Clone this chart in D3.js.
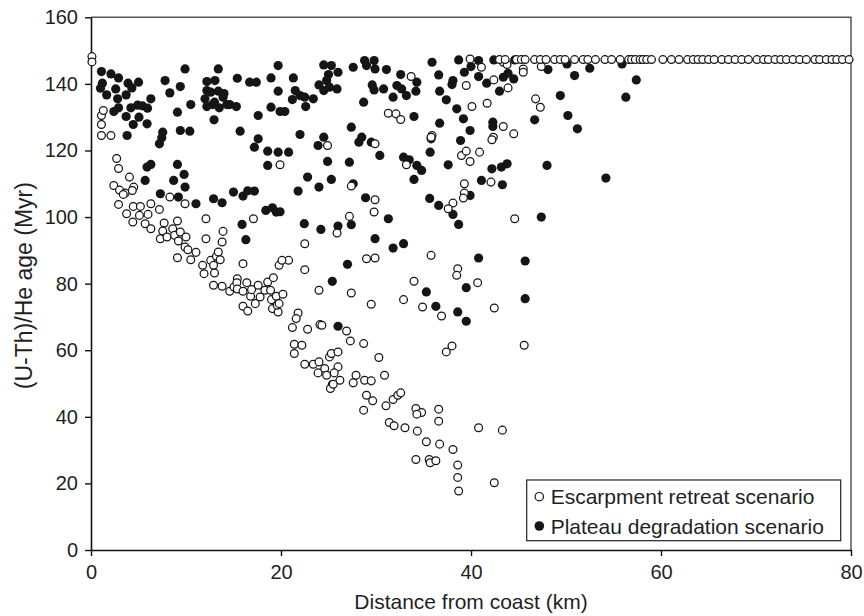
<!DOCTYPE html>
<html><head><meta charset="utf-8">
<script src="https://cdn.jsdelivr.net/npm/d3@7"></script>
<style>body{margin:0;background:#fff}</style>
</head><body><svg id="c" width="864" height="616"></svg>
<script>
// Escarpment retreat scenario (open circles): [distance km, age Myr]
const escarpment = [
[0.1,148.2],[0.1,146.6],
[1.1,130.5],[1.3,132.0],[1.1,127.8],[1.1,124.5],[2.1,124.5],
[2.7,117.6],[2.9,114.6],[2.4,109.5],[3.0,108.1],[3.6,107.2],[4.05,112.0],[4.5,109.0],
[2.9,103.8],[3.4,106.8],[4.35,108.0],[3.75,101.0],[4.45,103.2],[4.4,98.5],[5.2,103.2],[5.1,100.5],[5.7,98.0],[6.0,100.8],[6.3,104.0],[6.3,96.5],[7.2,102.3],[8.3,106.0],[7.7,98.2],[7.55,95.8],[7.3,93.5],[8.0,94.0],[8.6,96.5],[9.1,98.8],[8.8,94.5],[9.4,95.5],[9.2,92.8],[10.0,94.0],[9.9,91.0],[10.2,90.2],[9.1,87.8],[10.5,87.2],[11.05,89.4],[9.9,104.0],[12.1,99.5],[12.1,93.5],[13.9,95.7],[13.8,92.5],[11.75,85.5],[11.9,83.0],[12.6,87.0],[12.9,85.5],[13.2,88.2],[13.4,89.5],[13.6,87.2],[13.0,83.2],[12.9,79.5],[13.8,79.2],[14.6,77.7],[15.05,79.0],[15.4,81.5],[15.35,80.3],[15.4,78.4],[16.0,86.0],[16.4,80.3],[16.0,77.7],[16.0,73.2],[16.5,71.8],[16.8,76.2],[16.9,78.2],[17.3,74.0],[17.6,79.5],[17.8,76.0],[18.3,78.0],[18.6,80.5],[18.9,78.0],[19.2,81.8],[19.0,75.2],[19.5,76.2],[19.1,72.5],[19.7,71.5],[19.6,73.5],[19.8,85.5],[17.1,99.5],
[29.9,105.2],[29.8,101.5],[27.2,100.2],[25.9,95.2],[22.5,92.0],[38.1,104.2],[37.6,102.5],[39.3,110.0],[39.3,107.2],[39.2,105.7],
[35.8,88.5],[29.0,87.5],[29.9,87.7],[22.5,84.2],[20.8,87.0],[20.1,87.0],[38.6,84.5],[38.5,82.5],[34.0,80.7],[24.0,78.0],[27.4,77.2],[32.9,75.2],[34.9,73.0],[36.9,70.3],[29.5,73.8],[20.2,76.8],[19.8,74.0],[21.8,71.2],[21.6,69.5],[21.2,66.8],[22.8,66.3],[24.1,67.7],[24.3,67.5],[26.9,65.8],[27.3,62.8],[28.7,62.0],[30.3,57.8],[21.4,61.8],[22.2,61.5],[21.4,59.0],[22.5,55.8],[23.4,55.8],[24.0,56.5],[25.1,58.0],[25.3,59.0],[26.0,59.5],[26.0,55.0],[24.6,54.5],[23.9,53.2],[24.8,52.5],[25.6,53.2],[26.2,51.0],[25.4,49.7],[27.6,50.2],[27.9,52.5],[28.8,51.0],[29.5,50.8],[30.9,52.5],[37.4,59.5],[38.0,61.3],
[25.2,48.5],[25.5,49.8],[29.0,46.5],[29.65,44.8],[28.7,42.0],[31.05,43.3],[31.8,45.2],[32.3,46.5],[32.6,47.2],[31.4,38.3],[31.9,37.3],[33.05,36.7],[34.35,35.7],[34.2,42.5],[34.8,41.3],[34.3,40.8],[36.6,42.3],[36.6,38.7],[35.3,32.5],[36.7,31.8],[38.1,30.2],[34.2,27.2],[35.6,27.2],[35.7,26.2],[36.3,26.8],[38.6,25.5],[38.6,21.8],[38.7,17.7],
[40.8,36.7],[43.3,36.0],[42.45,20.2],[44.6,99.5],[40.7,80.3],[42.45,72.7],[45.6,61.5],
[33.7,142.2],[31.3,131.2],[32.1,131.0],[32.6,129.3],[35.9,124.5],[35.8,124.0],[29.9,122.0],[24.9,121.5],[19.9,115.7],[33.2,115.7],[39.0,118.5],[39.5,119.8],[39.9,116.7],[40.9,119.5],[27.4,109.3],[42.1,110.5],[39.9,147.5],[41.1,145.0],[39.5,139.5],[40.1,133.2],[41.7,134.2],[43.4,146.5],[43.8,145.8],[45.5,144.5],[45.5,143.5],[47.4,145.2],[42.4,141.2],[43.9,138.8],[46.8,135.5],[47.3,133.0],[43.4,127.2],[44.5,125.0],[42.35,124.0],[42.2,123.2],
[43.0,147.3],[43.6,147.3],[44.8,147.3],[45.3,147.3],[45.7,147.3],[46.7,147.3],[47.3,147.3],[47.9,147.3],[48.8,147.3],[49.4,147.3],[49.9,147.3],[50.9,147.3],[51.8,147.3],[52.3,147.3],[53.1,147.3],[54.1,147.3],[54.8,147.3],[55.7,147.3],[56.6,147.3],[56.9,147.3],[57.3,147.3],[57.8,147.3],[58.1,147.3],[58.5,147.3],[59.0,147.3],
[60.2,147.3],[61.1,147.3],[61.9,147.3],[62.8,147.3],[63.4,147.3],[63.9,147.3],[64.4,147.3],[65.0,147.3],[65.6,147.3],[66.4,147.3],[67.1,147.3],[67.8,147.3],[68.5,147.3],[69.2,147.3],[70.1,147.3],[70.8,147.3],[71.3,147.3],[72.0,147.3],[72.6,147.3],[73.2,147.3],[73.9,147.3],[74.6,147.3],[75.3,147.3],[76.2,147.3],[76.7,147.3],[77.4,147.3],[78.0,147.3],[78.5,147.3],[79.1,147.3],[79.8,147.3]
];
// Plateau degradation scenario (filled circles)
const plateau = [
[1.1,143.7],[2.1,143.0],[2.9,141.8],[1.2,140.2],[1.0,138.7],[1.65,136.7],[2.6,138.5],[2.8,135.5],[2.9,132.8],[2.4,131.7],[3.7,136.7],[3.9,140.2],[4.3,138.8],[5.0,140.5],[3.7,130.2],[4.2,132.8],[4.9,133.6],[5.4,133.4],[5.95,132.7],[4.45,127.8],[5.05,130.0],[5.9,128.0],[6.3,135.5],[3.8,124.5],[7.8,141.0],[8.3,137.3],[9.4,139.2],[9.9,144.5],[9.1,131.5],[10.5,133.8],[9.4,126.0],[10.4,125.8],[7.55,125.5],[7.45,123.8],[7.2,122.0],[9.1,115.8],[9.8,112.8],[8.7,111.0],[9.9,109.0],[5.7,111.0],[5.9,115.0],[6.3,115.8],
[12.0,135.5],[12.2,138.0],[13.05,141.0],[13.4,144.5],[12.2,133.2],[12.8,133.8],[13.0,134.5],[13.5,132.8],[13.9,136.0],[14.3,133.8],[12.95,129.2],[15.3,133.2],[15.7,125.8],[15.4,141.7],[16.7,140.5],[17.4,140.5],[17.6,130.5],[17.2,121.0],[17.6,123.5],[18.6,119.8],[18.6,115.5],[18.95,141.8],[18.95,133.0],[19.7,145.5],[12.2,140.7],[12.6,137.5],[13.4,137.8],[14.0,137.1],[14.6,133.8],
[7.3,107.0],[9.2,106.0],[11.05,104.0],[12.9,105.5],[13.8,104.3],[15.9,97.8],[16.3,93.2],[18.4,102.0],[19.1,102.8],[19.5,101.5],[19.9,101.6],[15.0,107.5],[16.0,106.3],[16.5,107.9],[17.2,107.8],
[21.3,141.8],[19.7,137.8],[21.5,138.0],[21.2,135.3],[22.0,136.5],[22.5,136.0],[23.4,135.5],[22.6,133.2],[19.9,131.7],[20.4,131.7],[24.5,145.7],[25.3,145.5],[26.0,143.5],[25.0,142.8],[24.8,141.0],[24.0,139.7],[25.1,139.0],[24.5,138.0],[25.9,138.5],[27.6,145.0],[28.8,147.0],[29.8,147.0],[29.0,145.5],[29.9,144.5],[31.1,144.3],[29.6,139.7],[29.8,138.2],[30.8,138.5],[32.6,142.8],[32.2,139.5],[32.7,138.5],[33.2,136.5],[34.3,140.5],[34.2,137.8],[31.8,136.0],[28.7,134.5],[34.0,130.2],[35.9,146.5],[36.6,142.7],[38.7,147.2],[39.3,143.5],[38.1,141.0],[38.0,139.8],[40.8,142.2],[41.65,140.2],[40.8,147.0],[36.7,137.8],[37.4,135.2],[38.5,132.5],[39.2,129.5],[39.9,126.0],[38.9,123.0],[36.7,128.2],[35.8,123.5],[35.7,119.5],[37.6,115.7],[41.1,111.0],[39.9,106.5],[34.0,111.3],[32.9,118.0],[33.5,117.2],[34.3,115.5],[34.8,114.0],[30.4,118.5],[27.4,127.0],[28.5,124.0],[28.2,122.5],[29.5,122.5],[24.5,124.0],[23.9,121.5],[22.0,124.8],[24.9,116.7],[27.2,116.5],[24.0,109.0],[22.8,112.0],[25.3,111.3],[21.8,107.8],[19.7,119.5],[20.8,119.5],[28.9,105.8],[35.65,105.6],[27.6,110.0],[40.0,145.2],
[36.6,103.5],[38.1,100.8],[38.7,97.8],[22.45,98.0],[24.2,96.3],[26.0,97.3],[27.4,97.7],[31.3,99.5],[29.9,93.5],[31.8,90.7],[32.9,92.0],[27.0,85.8],[25.4,80.7],[35.3,77.5],[36.3,73.2],[38.6,71.5],[39.5,78.8],[39.5,68.7],[26.0,67.2],
[47.4,100.0],[40.8,87.7],[45.7,86.8],[45.7,75.5],
[42.4,147.2],[44.6,147.2],[48.1,144.3],[50.1,146.0],[50.9,142.5],[52.5,144.7],[55.9,146.0],[57.4,141.2],[49.4,136.5],[56.3,136.0],[50.2,130.5],[46.7,129.2],[51.2,126.5],[48.0,115.5],[54.2,111.7],[43.0,137.8],[43.4,142.0],[43.9,143.2],[44.5,141.5],[42.3,128.5],[42.3,127.2],[42.2,114.5],[43.2,115.0],[43.8,116.0],[43.3,109.7]
];
const xTicks = [0, 20, 40, 60, 80];
const yTicks = [0, 20, 40, 60, 80, 100, 120, 140, 160];
const xTitle = "Distance from coast (km)";
const yTitle = "(U-Th)/He age (Myr)";
const legendLabels = ["Escarpment retreat scenario", "Plateau degradation scenario"];

const FONT = "'Liberation Sans', Arial, Helvetica, sans-serif";
const svg = d3.select("#c");
svg.append("rect").attr("width", 864).attr("height", 616).attr("fill", "#fff");

const x = d3.scaleLinear().domain([0, 80]).range([91, 851]);
const y = d3.scaleLinear().domain([0, 160]).range([550, 17.3]);

// frame top/right
svg.append("path")
  .attr("d", `M${x(0)},${y(160)}H${x(80)}V${y(0)}`)
  .attr("fill", "none").attr("stroke", "#555").attr("stroke-width", 1.5);

// axes
const gy = svg.append("g").attr("transform", `translate(${x(0)},0)`)
  .call(d3.axisLeft(y).tickValues(yTicks).tickSize(6).tickSizeOuter(0).tickPadding(7));
const gx = svg.append("g").attr("transform", `translate(0,${y(0)})`)
  .call(d3.axisBottom(x).tickValues(xTicks).tickSize(6).tickSizeOuter(0).tickPadding(9));
[gx, gy].forEach(g => {
  g.select(".domain").attr("stroke", "#111").attr("stroke-width", 1.6);
  g.selectAll(".tick line").attr("stroke", "#111").attr("stroke-width", 1.4);
  g.selectAll(".tick text").attr("font-family", FONT).attr("font-size", 20).attr("fill", "#1f1f1f");
});

// points: filled first, open on top
svg.append("g").selectAll("circle").data(plateau).join("circle")
  .attr("cx", d => x(d[0])).attr("cy", d => y(d[1])).attr("r", 4.6)
  .attr("fill", "#151515");
svg.append("g").selectAll("circle").data(escarpment).join("circle")
  .attr("cx", d => x(d[0])).attr("cy", d => y(d[1])).attr("r", 3.9)
  .attr("fill", "#fff").attr("stroke", "#151515").attr("stroke-width", 1.25);

// titles
svg.append("text").attr("x", (x(0) + x(80)) / 2).attr("y", 609)
  .attr("text-anchor", "middle").attr("font-family", FONT).attr("font-size", 21).attr("fill", "#1f1f1f")
  .text(xTitle);
svg.append("text").attr("transform", `translate(32,${(y(0) + y(160)) / 2 + 2}) rotate(-90)`)
  .attr("text-anchor", "middle").attr("font-family", FONT).attr("font-size", 23).attr("fill", "#1f1f1f")
  .text(yTitle);

// legend
const lg = svg.append("g");
lg.append("rect").attr("x", 526.7).attr("y", 480).attr("width", 314).attr("height", 60.7)
  .attr("fill", "#fff").attr("stroke", "#222").attr("stroke-width", 1.2);
legendLabels.forEach((t, i) => {
  const cy = 496.7 + i * 29.3;
  lg.append("circle").attr("cx", 539.3).attr("cy", cy).attr("r", i === 0 ? 4.2 : 4.8)
    .attr("fill", i === 0 ? "#fff" : "#151515").attr("stroke", i === 0 ? "#151515" : "none").attr("stroke-width", 1.2);
  lg.append("text").attr("x", 550.7).attr("y", cy + 7.5)
    .attr("font-family", FONT).attr("font-size", 21).attr("fill", "#1f1f1f").text(t);
});
</script></body></html>
